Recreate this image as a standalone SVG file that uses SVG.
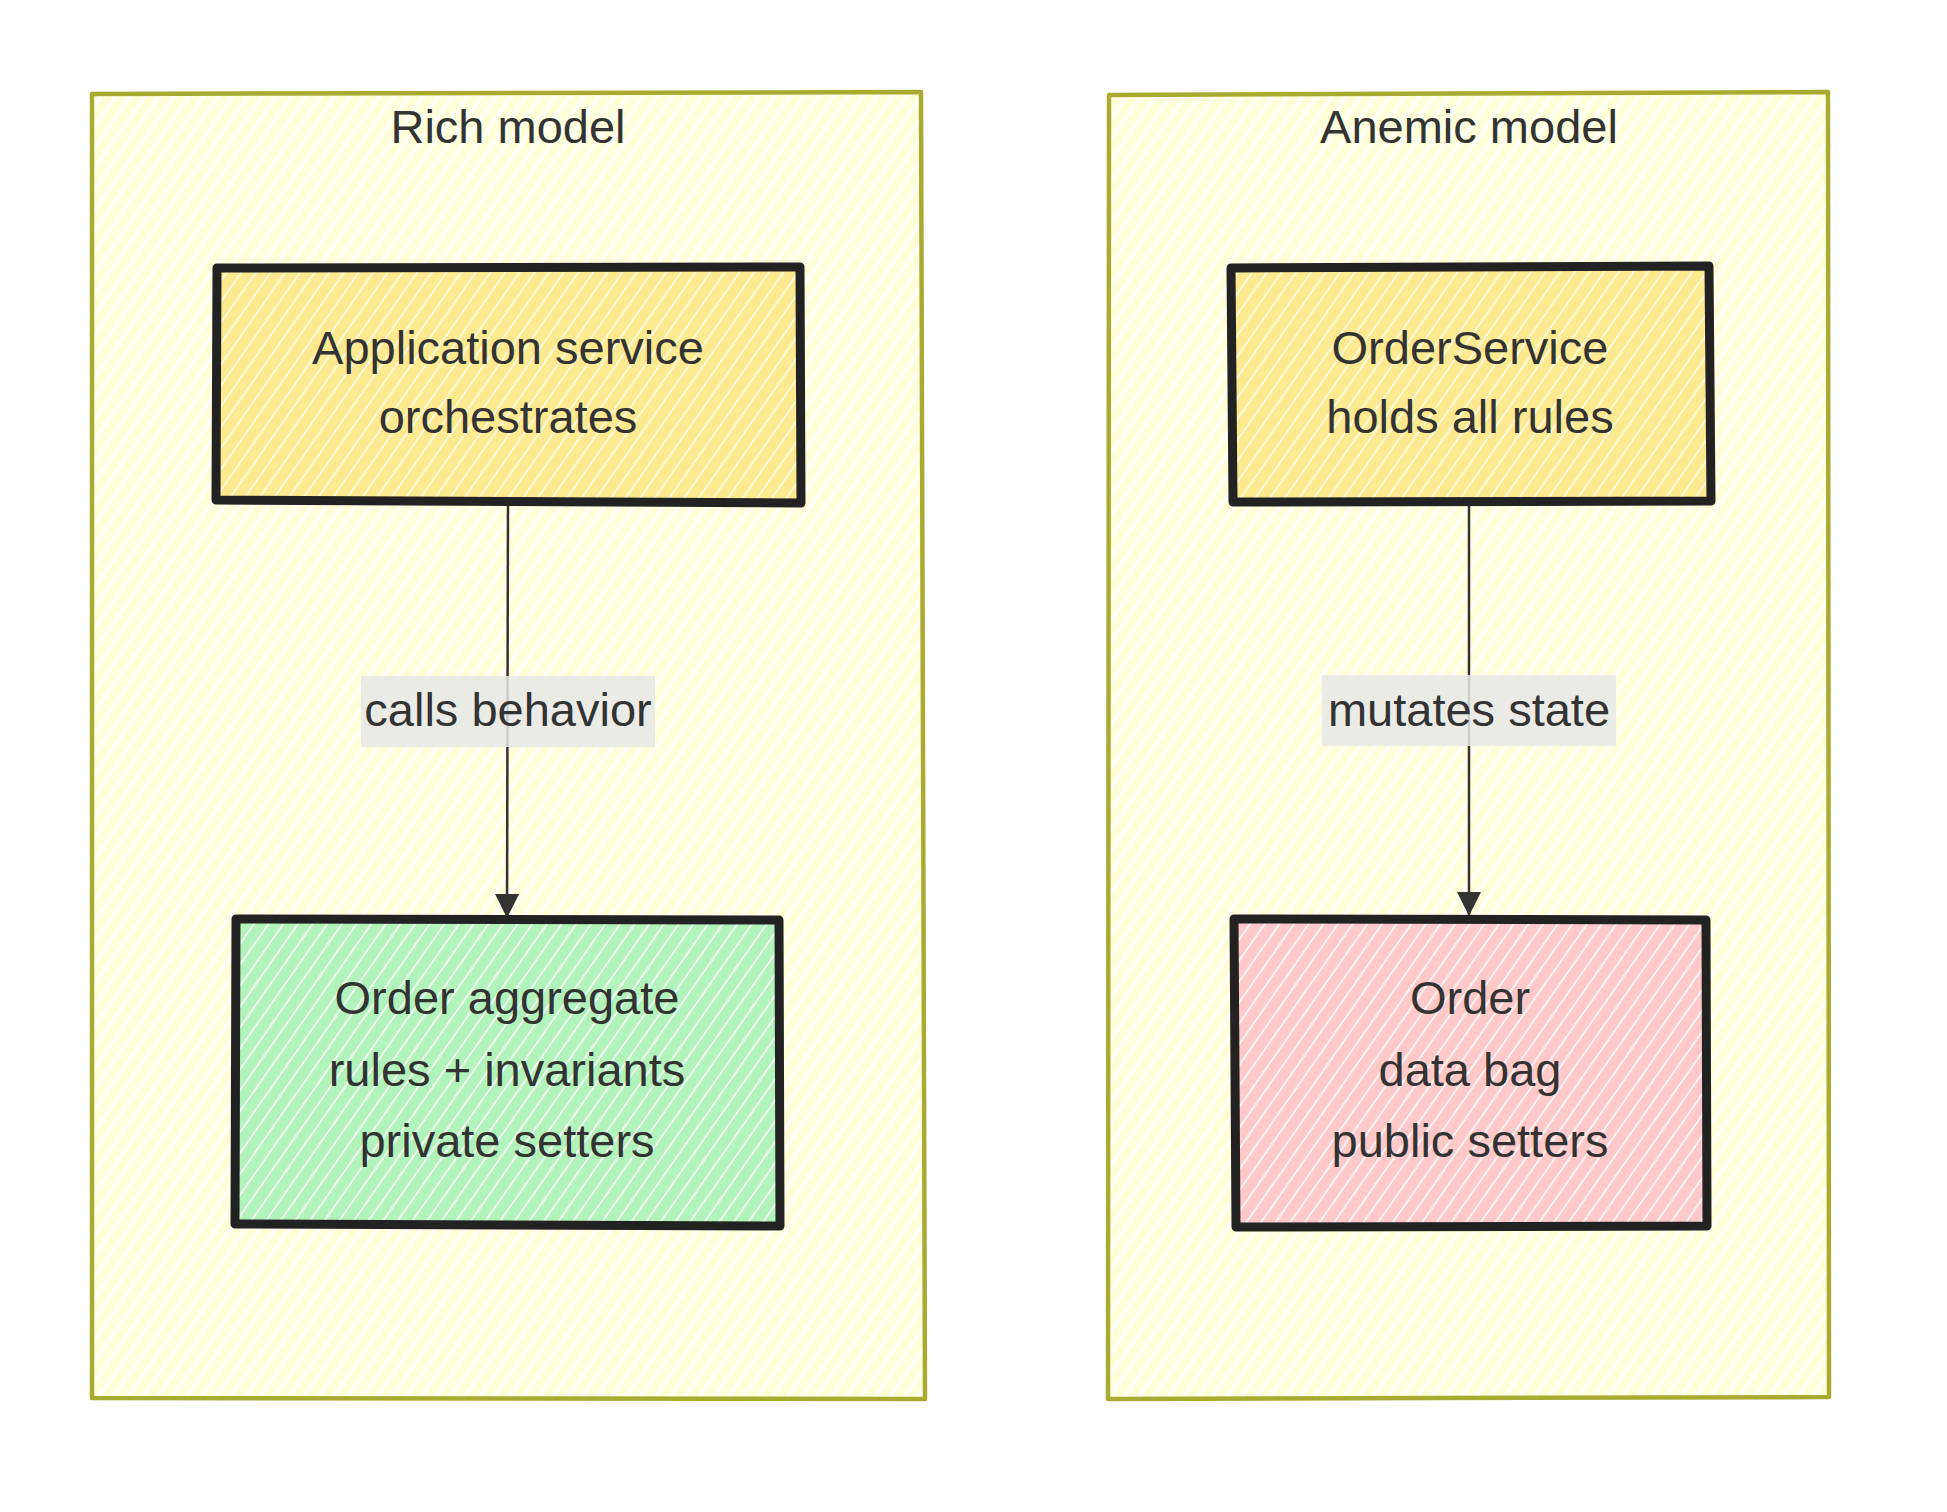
<svg xmlns="http://www.w3.org/2000/svg" width="1947" height="1512" viewBox="0 0 1947 1512">
<style>
  .t { font-family: "Liberation Sans", Arial, sans-serif; font-size: 47px; fill: #333333; text-anchor: middle; }
  .cl { stroke: #aaaa33; stroke-width: 4.5; fill: url(#hCluster); stroke-linejoin: round; }
  .nd { stroke: #222222; stroke-width: 9; stroke-linejoin: round; }
  .edge { stroke: #333333; stroke-width: 2.5; fill: none; }
  .lbl { fill: #e8e8e8; opacity: 0.85; }
</style>
<defs>
  <pattern id="hCluster" patternUnits="userSpaceOnUse" width="12" height="12" patternTransform="rotate(-55)">
    <rect width="12" height="12" fill="#ffffd9"/>
    <line x1="0" y1="6" x2="12" y2="6" stroke="#ffffff" stroke-width="3"/>
  </pattern>
  <pattern id="hYellow" patternUnits="userSpaceOnUse" width="12" height="12" patternTransform="rotate(-55)">
    <rect width="12" height="12" fill="#fde98f"/>
    <line x1="0" y1="6" x2="12" y2="6" stroke="#fff8d8" stroke-width="2"/>
  </pattern>
  <pattern id="hGreen" patternUnits="userSpaceOnUse" width="12" height="12" patternTransform="rotate(-55)">
    <rect width="12" height="12" fill="#b2f2bb"/>
    <line x1="0" y1="6" x2="12" y2="6" stroke="#eefcef" stroke-width="2"/>
  </pattern>
  <pattern id="hRed" patternUnits="userSpaceOnUse" width="12" height="12" patternTransform="rotate(-55)">
    <rect width="12" height="12" fill="#ffc9c9"/>
    <line x1="0" y1="6" x2="12" y2="6" stroke="#fff2f2" stroke-width="2"/>
  </pattern>
  <marker id="arrow" markerUnits="userSpaceOnUse" markerWidth="24" markerHeight="24" viewBox="0 0 24 24" refX="24" refY="12" orient="auto">
    <path d="M0,0 L24,12 L0,24 z" fill="#333333"/>
  </marker>
</defs>
<rect width="1947" height="1512" fill="#ffffff"/>

<g id="cluster-rich">
  <path class="cl" d="M92,94 L921,92 L925,1399 L92,1398 Z"/>
  <text class="t" x="508" y="143">Rich model</text>
</g>
<g id="cluster-anemic">
  <path class="cl" d="M1109,95 L1828,92 L1829,1397 L1108,1399 Z"/>
  <text class="t" x="1469" y="143">Anemic model</text>
</g>

<g id="edges">
  <line class="edge" x1="508" y1="502" x2="507" y2="918" marker-end="url(#arrow)"/>
  <rect class="lbl" x="361" y="676" width="294" height="71"/>
  <text class="t" x="508" y="726">calls behavior</text>
  <line class="edge" x1="1469" y1="502" x2="1469" y2="916" marker-end="url(#arrow)"/>
  <rect class="lbl" x="1322" y="675" width="294" height="71"/>
  <text class="t" x="1469" y="726">mutates state</text>
</g>

<g id="node-appservice">
  <path class="nd" fill="url(#hYellow)" d="M217,268 L800,267 L801,503 L216,500 Z"/>
  <text class="t" x="508" y="364">Application service</text>
  <text class="t" x="508" y="433">orchestrates</text>
</g>
<g id="node-order-aggregate">
  <path class="nd" fill="url(#hGreen)" d="M236,919 L779,920 L780,1226 L235,1224 Z"/>
  <text class="t" x="507" y="1014">Order aggregate</text>
  <text class="t" x="507" y="1086">rules + invariants</text>
  <text class="t" x="507" y="1157">private setters</text>
</g>
<g id="node-orderservice">
  <path class="nd" fill="url(#hYellow)" d="M1231,268 L1709,266 L1711,501 L1233,502 Z"/>
  <text class="t" x="1470" y="364">OrderService</text>
  <text class="t" x="1470" y="433">holds all rules</text>
</g>
<g id="node-order-bag">
  <path class="nd" fill="url(#hRed)" d="M1234,919 L1706,920 L1707,1226 L1236,1227 Z"/>
  <text class="t" x="1470" y="1014">Order</text>
  <text class="t" x="1470" y="1086">data bag</text>
  <text class="t" x="1470" y="1157">public setters</text>
</g>
</svg>
